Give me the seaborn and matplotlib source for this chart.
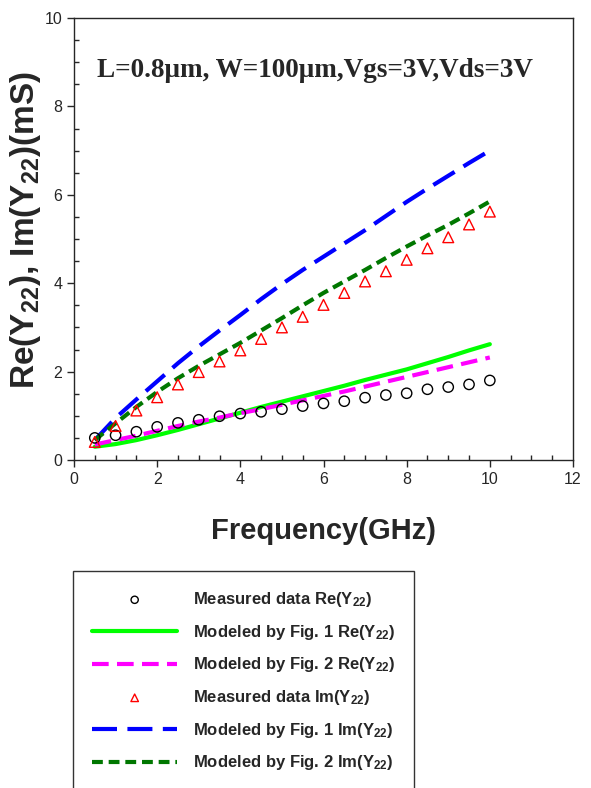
import numpy as np
import pandas as pd
import matplotlib
matplotlib.use("Agg")
import matplotlib.pyplot as plt
from matplotlib.ticker import MultipleLocator
import seaborn as sns

# frequency points (GHz)
freq = [0.5, 1.0, 1.5, 2.0, 2.5, 3.0, 3.5, 4.0, 4.5, 5.0,
        5.5, 6.0, 6.5, 7.0, 7.5, 8.0, 8.5, 9.0, 9.5, 10.0]

# measured data (mS)
re_meas = [0.50, 0.56, 0.64, 0.75, 0.84, 0.91, 0.99, 1.05, 1.09, 1.15,
           1.22, 1.28, 1.33, 1.41, 1.47, 1.51, 1.60, 1.65, 1.71, 1.80]
im_meas = [0.41, 0.77, 1.12, 1.42, 1.71, 1.99, 2.23, 2.48, 2.74, 3.00,
           3.24, 3.51, 3.78, 4.04, 4.27, 4.53, 4.79, 5.04, 5.33, 5.62]

# modeled curves (mS)
re_fig1 = [0.30, 0.36, 0.45, 0.56, 0.68, 0.81, 0.94, 1.07, 1.20, 1.32,
           1.44, 1.56, 1.68, 1.81, 1.93, 2.05, 2.19, 2.33, 2.48, 2.62]
re_fig2 = [0.35, 0.45, 0.55, 0.66, 0.77, 0.87, 0.96, 1.06, 1.15, 1.25,
           1.35, 1.45, 1.55, 1.66, 1.77, 1.88, 1.99, 2.10, 2.21, 2.32]
im_fig1 = [0.45, 0.95, 1.37, 1.78, 2.19, 2.57, 2.93, 3.28, 3.64, 3.98,
           4.30, 4.60, 4.90, 5.20, 5.52, 5.84, 6.14, 6.43, 6.72, 7.00]
im_fig2 = [0.45, 0.83, 1.20, 1.54, 1.85, 2.13, 2.39, 2.65, 2.93, 3.21,
           3.50, 3.78, 4.04, 4.30, 4.57, 4.83, 5.08, 5.32, 5.58, 5.85]

df = pd.DataFrame({"freq": freq, "re_meas": re_meas, "im_meas": im_meas,
                   "re_fig1": re_fig1, "re_fig2": re_fig2,
                   "im_fig1": im_fig1, "im_fig2": im_fig2})

sns.set_style("ticks")
plt.rcParams["font.family"] = ["Liberation Sans", "DejaVu Sans"]
plt.rcParams["mathtext.fontset"] = "custom"
plt.rcParams["mathtext.rm"] = "Liberation Sans:bold"
plt.rcParams["mathtext.it"] = "Liberation Sans:bold:italic"
plt.rcParams["mathtext.bf"] = "Liberation Sans:bold"

fig = plt.figure(figsize=(5.91, 7.88), dpi=100)
ax = fig.add_axes([74 / 591, 1 - 460 / 788, 499 / 591, 442 / 788])

sns.scatterplot(data=df, x="freq", y="re_meas", ax=ax, marker="o", s=55,
                facecolor="none", edgecolor="black", linewidth=1,
                label="Measured data Re(Y$_{22}$)", zorder=3)
sns.lineplot(data=df, x="freq", y="re_fig1", ax=ax, color="#00ff00",
             linewidth=3, label="Modeled by Fig. 1 Re(Y$_{22}$)")
sns.lineplot(data=df, x="freq", y="re_fig2", ax=ax, color="#ff00ff",
             linewidth=3, label="Modeled by Fig. 2 Re(Y$_{22}$)")
ax.lines[-1].set_dashes([4, 2])
sns.scatterplot(data=df, x="freq", y="im_meas", ax=ax, marker="^", s=60,
                facecolor="none", edgecolor="red", linewidth=1,
                label="Measured data Im(Y$_{22}$)", zorder=3)
sns.lineplot(data=df, x="freq", y="im_fig1", ax=ax, color="#0000ff",
             linewidth=3, label="Modeled by Fig. 1 Im(Y$_{22}$)")
ax.lines[-1].set_dashes([6, 2.5])
sns.lineplot(data=df, x="freq", y="im_fig2", ax=ax, color="#007700",
             linewidth=3, label="Modeled by Fig. 2 Im(Y$_{22}$)")
ax.lines[-1].set_dashes([2.6, 1.4])

ax.set_xlim(0, 12)
ax.set_ylim(0, 10)
ax.xaxis.set_major_locator(MultipleLocator(2))
ax.xaxis.set_minor_locator(MultipleLocator(0.5))
ax.yaxis.set_major_locator(MultipleLocator(2))
ax.yaxis.set_minor_locator(MultipleLocator(0.5))
ax.tick_params(which="major", direction="out", length=5, width=1, labelsize=11.5)
ax.tick_params(which="minor", direction="in", length=3.5, width=1)
for s in ax.spines.values():
    s.set_linewidth(1)
    s.set_visible(True)

ax.set_xlabel("Frequency(GHz)", fontsize=21, fontweight="bold", labelpad=22)
ax.set_ylabel("Re(Y$_{22}$), Im(Y$_{22}$)(mS)", fontsize=24, fontweight="bold")
ax.yaxis.set_label_coords(-0.062, 0.52)

ax.text(0.046, 0.882, "L=0.8\u03bcm, W=100\u03bcm,Vgs=3V,Vds=3V",
        transform=ax.transAxes, fontsize=19.5, fontweight="bold",
        family=["Liberation Serif", "DejaVu Serif"], va="center")

handles, labels = ax.get_legend_handles_labels()
ax.get_legend().remove()
leg = fig.legend(handles, labels, loc="upper left",
                 bbox_to_anchor=(73 / 591, 1 - 571 / 788), borderaxespad=0,
                 frameon=True, fancybox=False, edgecolor="black",
                 handlelength=5.1, handletextpad=0.95, labelspacing=0.82,
                 borderpad=1.15, markerscale=0.7,
                 prop={"weight": "bold", "size": 12})
leg.get_frame().set_linewidth(1)

fig.savefig("out.png", dpi=100)
